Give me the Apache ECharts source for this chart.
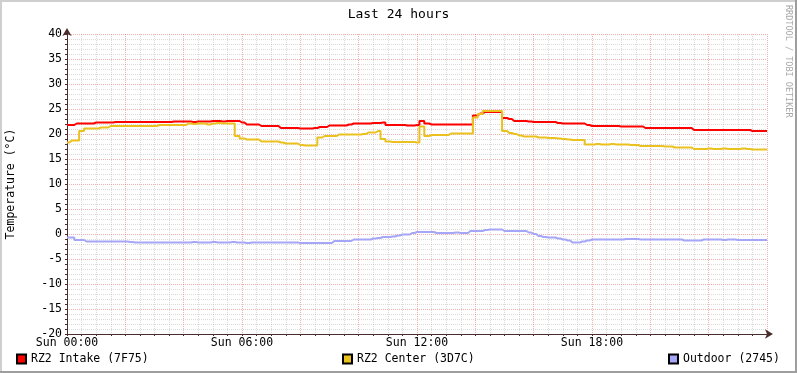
<!DOCTYPE html>
<html>
<head>
<meta charset="utf-8">
<script src="https://cdn.jsdelivr.net/npm/echarts@6/dist/echarts.min.js"></script>
<style>
  html, body { margin: 0; padding: 0; background: #fff; }
  #chart { width: 797px; height: 373px; }
</style>
</head>
<body>
<div id="chart"></div>
<script>
// samples every 10 minutes, 00:00 .. 24:00 (6 per hour)
const STEP_HOURS = 1 / 6;
const hourLabels = ["Sun 00:00", "Sun 06:00", "Sun 12:00", "Sun 18:00"];
const seriesNames = ["RZ2 Intake (7F75)", "RZ2 Center (3D7C)", "Outdoor (2745)"];

const intake = [
  21.8, 21.8, 22.1, 22.1, 22.1, 22.1,
  22.3, 22.3, 22.3, 22.3, 22.4, 22.4,
  22.4, 22.4, 22.4, 22.4, 22.4, 22.4,
  22.4, 22.4, 22.4, 22.4, 22.5, 22.5,
  22.5, 22.5, 22.4, 22.5, 22.5, 22.5,
  22.6, 22.6, 22.5, 22.6, 22.6, 22.6,
  22.3, 21.9, 21.9, 21.9, 21.6, 21.6,
  21.6, 21.6, 21.2, 21.2, 21.2, 21.2,
  21.1, 21.1, 21.1, 21.2, 21.4, 21.4,
  21.7, 21.7, 21.7, 21.7, 21.9, 22.1,
  22.1, 22.1, 22.1, 22.2, 22.2, 22.3,
  21.8, 21.8, 21.8, 21.8, 21.7, 21.7,
  21.8, 22.6, 22.1, 21.9, 21.9, 21.9,
  21.9, 21.9, 21.9, 21.9, 21.9, 21.9,
  23.7, 24.1, 24.4, 24.4, 24.4, 24.4,
  23.2, 23.0, 22.6, 22.6, 22.6, 22.5,
  22.4, 22.4, 22.4, 22.4, 22.4, 22.2,
  22.1, 22.1, 22.1, 22.1, 22.1, 21.8,
  21.6, 21.6, 21.6, 21.6, 21.6, 21.6,
  21.5, 21.5, 21.5, 21.5, 21.5, 21.2,
  21.2, 21.2, 21.2, 21.2, 21.2, 21.2,
  21.2, 21.2, 21.2, 20.8, 20.8, 20.8,
  20.8, 20.8, 20.8, 20.8, 20.8, 20.8,
  20.8, 20.8, 20.8, 20.6, 20.6, 20.6,
  20.6
];

const center = [
  18.3, 18.7, 18.7, 20.6, 21.1, 21.1,
  21.1, 21.3, 21.3, 21.6, 21.6, 21.6,
  21.6, 21.6, 21.6, 21.6, 21.6, 21.6,
  21.6, 21.8, 21.8, 21.8, 21.8, 21.8,
  21.8, 22.1, 22.0, 22.1, 22.1, 21.9,
  22.1, 22.2, 22.1, 22.1, 22.1, 19.6,
  19.1, 18.9, 18.9, 18.9, 18.5, 18.5,
  18.5, 18.5, 18.3, 18.1, 18.1, 18.1,
  17.8, 17.7, 17.7, 17.7, 19.3, 19.6,
  19.6, 19.6, 19.9, 19.9, 19.9, 19.9,
  19.9, 20.0, 20.3, 20.3, 20.6, 19.0,
  18.5, 18.4, 18.4, 18.4, 18.4, 18.4,
  18.3, 21.5, 19.6, 19.8, 19.8, 19.8,
  19.8, 20.1, 20.1, 20.1, 20.1, 20.1,
  23.3, 24.0, 24.6, 24.6, 24.6, 24.6,
  20.6, 20.2, 20.0, 19.7, 19.5, 19.5,
  19.5, 19.3, 19.3, 19.2, 19.2, 19.1,
  19.0, 18.9, 18.8, 18.8, 18.8, 17.9,
  17.9, 18.0, 17.9, 17.9, 18.0, 17.9,
  17.9, 17.9, 17.8, 17.8, 17.6, 17.6,
  17.6, 17.6, 17.6, 17.5, 17.5, 17.3,
  17.3, 17.3, 17.3, 17.0, 17.0, 17.0,
  17.1, 17.0, 17.0, 17.1, 17.0, 17.0,
  17.0, 17.1, 17.0, 16.9, 16.9, 16.9,
  16.9
];

const outdoor = [
  -0.7, -0.7, -1.2, -1.2, -1.5, -1.5,
  -1.5, -1.5, -1.5, -1.5, -1.5, -1.5,
  -1.5, -1.6, -1.7, -1.7, -1.7, -1.7,
  -1.7, -1.7, -1.7, -1.7, -1.7, -1.7,
  -1.7, -1.7, -1.6, -1.7, -1.7, -1.7,
  -1.6, -1.7, -1.7, -1.7, -1.6, -1.7,
  -1.7, -1.8, -1.7, -1.7, -1.7, -1.7,
  -1.7, -1.7, -1.7, -1.7, -1.7, -1.7,
  -1.8, -1.8, -1.8, -1.8, -1.8, -1.8,
  -1.8, -1.4, -1.4, -1.4, -1.4, -1.1,
  -1.1, -1.1, -1.1, -0.9, -0.8, -0.6,
  -0.6, -0.5, -0.3, -0.1, -0.1, 0.2,
  0.4, 0.4, 0.4, 0.4, 0.2, 0.2,
  0.2, 0.2, 0.3, 0.2, 0.2, 0.6,
  0.6, 0.6, 0.8, 0.9, 0.9, 0.9,
  0.6, 0.6, 0.6, 0.6, 0.6, 0.3,
  0.0, -0.4, -0.6, -0.7, -0.7, -0.9,
  -1.1, -1.3, -1.7, -1.7, -1.5, -1.3,
  -1.1, -1.1, -1.1, -1.1, -1.1, -1.1,
  -1.1, -1.0, -1.0, -1.0, -1.1, -1.1,
  -1.1, -1.1, -1.1, -1.1, -1.1, -1.1,
  -1.1, -1.3, -1.3, -1.3, -1.3, -1.1,
  -1.1, -1.1, -1.1, -1.2, -1.1, -1.1,
  -1.2, -1.2, -1.2, -1.2, -1.2, -1.2,
  -1.2
];

const colors = ["#FF0000", "#EAC11E", "#A6A6F8"];
const FONT = "DejaVu Sans Mono";
const AXIS_COLOR = "#4a2c2c";

const chart = echarts.init(document.getElementById("chart"), null, { renderer: "canvas" });

function toPairs(arr) {
  return arr.map((v, i) => [i * STEP_HOURS, v]);
}

const series = [intake, center, outdoor].map((arr, i) => ({
  name: seriesNames[i],
  type: "line",
  data: toPairs(arr),
  step: "middle",
  showSymbol: false,
  symbol: "none",
  lineStyle: { color: colors[i], width: 2 },
  itemStyle: { color: colors[i], borderColor: "#000", borderWidth: 1 },
}));

const legendLefts = [11, 337, 663];

function axisLineStyle() {
  return {
    show: true,
    onZero: false,
    lineStyle: { color: AXIS_COLOR, width: 1 },
    symbol: ["none", "arrow"],
    symbolSize: [7, 8],
    symbolOffset: [0, 6],
  };
}

chart.setOption({
  animation: false,
  backgroundColor: "#fff",
  title: {
    text: "Last 24 hours",
    left: "center",
    top: 3,
    textStyle: { fontFamily: FONT, fontSize: 13, fontWeight: "normal", color: "#000" },
  },
  legend: seriesNames.map((n, i) => ({
    data: [n],
    left: legendLefts[i],
    top: 348,
    icon: "rect",
    itemWidth: 9,
    itemHeight: 9,
    itemGap: 5,
    textStyle: { fontFamily: FONT, fontSize: 11.5, color: "#000" },
  })),
  grid: { left: 67, right: 30, top: 34, bottom: 39, outerBoundsMode: "none", containLabel: false },
  xAxis: {
    type: "value",
    min: 0,
    max: 24,
    interval: 2,
    axisLine: axisLineStyle(),
    axisTick: { show: true, length: 2, lineStyle: { color: AXIS_COLOR } },
    minorTick: { show: true, splitNumber: 4, length: 2, lineStyle: { color: AXIS_COLOR } },
    axisLabel: {
      fontFamily: FONT,
      fontSize: 11.5,
      color: "#000",
      margin: 3,
      formatter: v => (v % 6 === 0 && v < 24 ? hourLabels[v / 6] : ""),
    },
    splitLine: { show: true, lineStyle: { color: "rgba(225,80,80,0.45)", type: [1, 1] } },
    minorSplitLine: { show: true, lineStyle: { color: "rgba(150,150,150,0.35)", type: [1, 1] } },
  },
  yAxis: {
    type: "value",
    min: -20,
    max: 40,
    interval: 5,
    name: "Temperature (°C)",
    nameLocation: "middle",
    nameGap: 50,
    nameTextStyle: { fontFamily: FONT, fontSize: 11.5, color: "#000" },
    axisLine: axisLineStyle(),
    axisTick: { show: true, length: 2, lineStyle: { color: AXIS_COLOR } },
    minorTick: { show: true, splitNumber: 5, length: 2, lineStyle: { color: AXIS_COLOR } },
    axisLabel: { fontFamily: FONT, fontSize: 11.5, color: "#000", margin: 5 },
    splitLine: { show: true, lineStyle: { color: "rgba(225,80,80,0.45)", type: [1, 1] } },
    minorSplitLine: { show: true, lineStyle: { color: "rgba(150,150,150,0.35)", type: [1, 1] } },
  },
  graphic: [
    { type: "rect", left: 0, top: 0, shape: { width: 797, height: 2 }, style: { fill: "#CFCFCF" }, silent: true },
    { type: "rect", left: 0, top: 0, shape: { width: 2, height: 373 }, style: { fill: "#CFCFCF" }, silent: true },
    { type: "rect", right: 0, top: 0, shape: { width: 2, height: 373 }, style: { fill: "#9E9E9E" }, silent: true },
    { type: "rect", left: 0, bottom: 0, shape: { width: 797, height: 2 }, style: { fill: "#9E9E9E" }, silent: true },
    {
      type: "text",
      x: 793,
      y: 5,
      rotation: -Math.PI / 2,
      style: {
        text: "RRDTOOL / TOBI OETIKER",
        fontFamily: FONT,
        fontSize: 8.5,
        fill: "#A8A8A8",
        textAlign: "left",
        textVerticalAlign: "top",
      },
      silent: true,
    },
  ],
  series: series,
});
</script>
</body>
</html>
